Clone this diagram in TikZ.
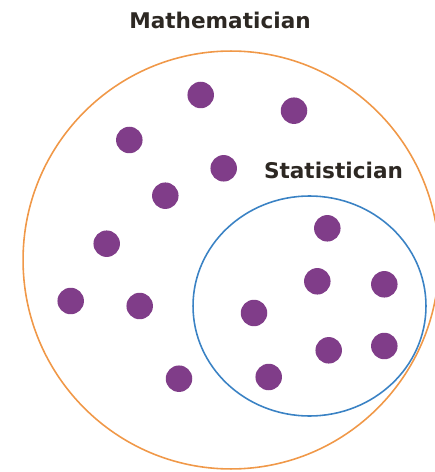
\documentclass[tikz,border=0pt]{standalone}
\usepackage{fontspec}
\setmainfont{DejaVu Sans}
\usetikzlibrary{positioning, shapes.geometric}
\definecolor{mathring}{RGB}{240,152,72}
\definecolor{statring}{RGB}{58,130,196}
\definecolor{person}{RGB}{128,61,137}
\definecolor{labeltext}{RGB}{45,40,35}

\begin{document}
\begin{tikzpicture}[
  x=0.02cm, y=-0.02cm,
  every node/.style={font=\fontsize{12.3}{14}\selectfont\bfseries},
  ring/.style={draw, ellipse, line width=0.9pt, inner sep=0pt},
  dot/.style={circle, fill=person, minimum size=0.53cm, inner sep=0pt},
  title/.style={text=labeltext, inner sep=0pt}
]
\useasboundingbox (0,0) rectangle (434,472);

% ── Sets ──
\node[ring, draw=mathring, minimum width=8.32cm, minimum height=8.36cm] (math) at (231,260) {};
\node[ring, draw=statring, minimum width=4.66cm, minimum height=4.4cm] (stat) at (309.5,306) {};

% ── Labels ──
\node[title] (mathlbl) at (220,20.5) {Mathematician};
\node[title] (statlbl) at (333.5,170.5) {Statistician};

% ── Mathematicians only ──
\node[dot] (m1) at (200.7,95) {};
\node[dot] (m2) at (294,110.7) {};
\node[dot] (m3) at (129.3,140) {};
\node[dot] (m4) at (223.7,168.3) {};
\node[dot] (m5) at (165.3,195.7) {};
\node[dot] (m6) at (106.7,243.7) {};
\node[dot] (m7) at (70.7,301) {};
\node[dot] (m8) at (139.7,306) {};
\node[dot] (m9) at (179,378.7) {};

% ── Statisticians ──
\node[dot] (s1) at (327.3,228.3) {};
\node[dot] (s2) at (317.3,281.3) {};
\node[dot] (s3) at (384.3,284.3) {};
\node[dot] (s4) at (254,313) {};
\node[dot] (s5) at (328.7,350.3) {};
\node[dot] (s6) at (384.3,346) {};
\node[dot] (s7) at (268.7,377) {};

\end{tikzpicture}
\end{document}
